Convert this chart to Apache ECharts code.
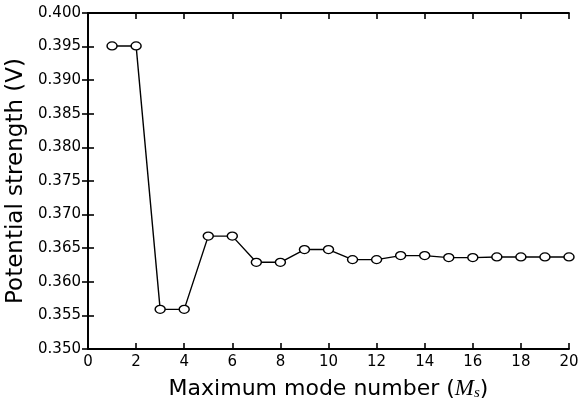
<!DOCTYPE html>
<html>
<head>
<meta charset="utf-8">
<script src="https://cdn.jsdelivr.net/npm/echarts@6/dist/echarts.min.js"></script>
<style>
  html, body { margin: 0; padding: 0; background: #fff; }
  #chart { width: 579px; height: 405px; }
</style>
</head>
<body>
<div id="chart"></div>
<script>
// mode numbers and potential strength
var modes = [1, 2, 3, 4, 5, 6, 7, 8, 9, 10, 11, 12, 13, 14, 15, 16, 17, 18, 19, 20];
var strength = [0.3951, 0.3951, 0.3559, 0.3559, 0.3668, 0.3668, 0.3629, 0.3629, 0.3648, 0.3648,
                0.3633, 0.3633, 0.3639, 0.3639, 0.3636, 0.3636, 0.3637, 0.3637, 0.3637, 0.3637];

var font = "DejaVu Sans";

function load_strength_chart() {
    var points = [];
    for (var i = 0; i < modes.length; i++) {
        points.push([modes[i], strength[i]]);
    }
    var axis_line = {lineStyle: {color: "#000", width: 1.8}};
    var ticks_in = {inside: true, length: 6, lineStyle: {color: "#000", width: 1.6}};
    var option = {
        animation: false,
        grid: {left: 88, right: 10, top: 13, bottom: 56, outerBoundsMode: "none", containLabel: false},
        xAxis: [{
            type: "value",
            min: 0, max: 20, interval: 2,
            axisLine: axis_line,
            axisTick: ticks_in,
            splitLine: {show: false},
            axisLabel: {color: "#000", fontFamily: font, fontSize: 15, margin: 6},
            name: "{a|Maximum mode number (}{i|M}{s|s}{a|)}",
            nameLocation: "middle",
            nameGap: 28,
            nameTextStyle: {
                rich: {
                    a: {fontFamily: font, fontSize: 22, color: "#000"},
                    i: {fontFamily: "Liberation Serif", fontStyle: "italic", fontSize: 23, color: "#000"},
                    s: {fontFamily: "Liberation Serif", fontStyle: "italic", fontSize: 15, color: "#000",
                        verticalAlign: "bottom", padding: [9, 0, 0, 0]}
                }
            }
        }, {
            type: "value",
            position: "top",
            min: 0, max: 20, interval: 2,
            axisLine: axis_line,
            axisTick: ticks_in,
            axisLabel: {show: false},
            splitLine: {show: false}
        }],
        yAxis: [{
            type: "value",
            min: 0.35, max: 0.4, interval: 0.005,
            axisLine: axis_line,
            axisTick: ticks_in,
            splitLine: {show: false},
            axisLabel: {
                color: "#000", fontFamily: font, fontSize: 15, margin: 7,
                formatter: function (v) { return v.toFixed(3); }
            },
            name: "Potential strength (V)",
            nameLocation: "middle",
            nameGap: 55,
            nameTextStyle: {color: "#000", fontFamily: font, fontSize: 23}
        }, {
            type: "value",
            position: "right",
            min: 0.35, max: 0.4, interval: 0.005,
            axisLine: axis_line,
            axisTick: ticks_in,
            axisLabel: {show: false},
            splitLine: {show: false}
        }],
        series: [{
            type: "line",
            data: points,
            symbol: "circle",
            symbolSize: [10, 8],
            showAllSymbol: true,
            lineStyle: {color: "#000", width: 1.4},
            itemStyle: {color: "#fff", borderColor: "#000", borderWidth: 1.3}
        }]
    };
    var chart = echarts.init(document.getElementById("chart"));
    chart.setOption(option);
}

load_strength_chart();
</script>
</body>
</html>
